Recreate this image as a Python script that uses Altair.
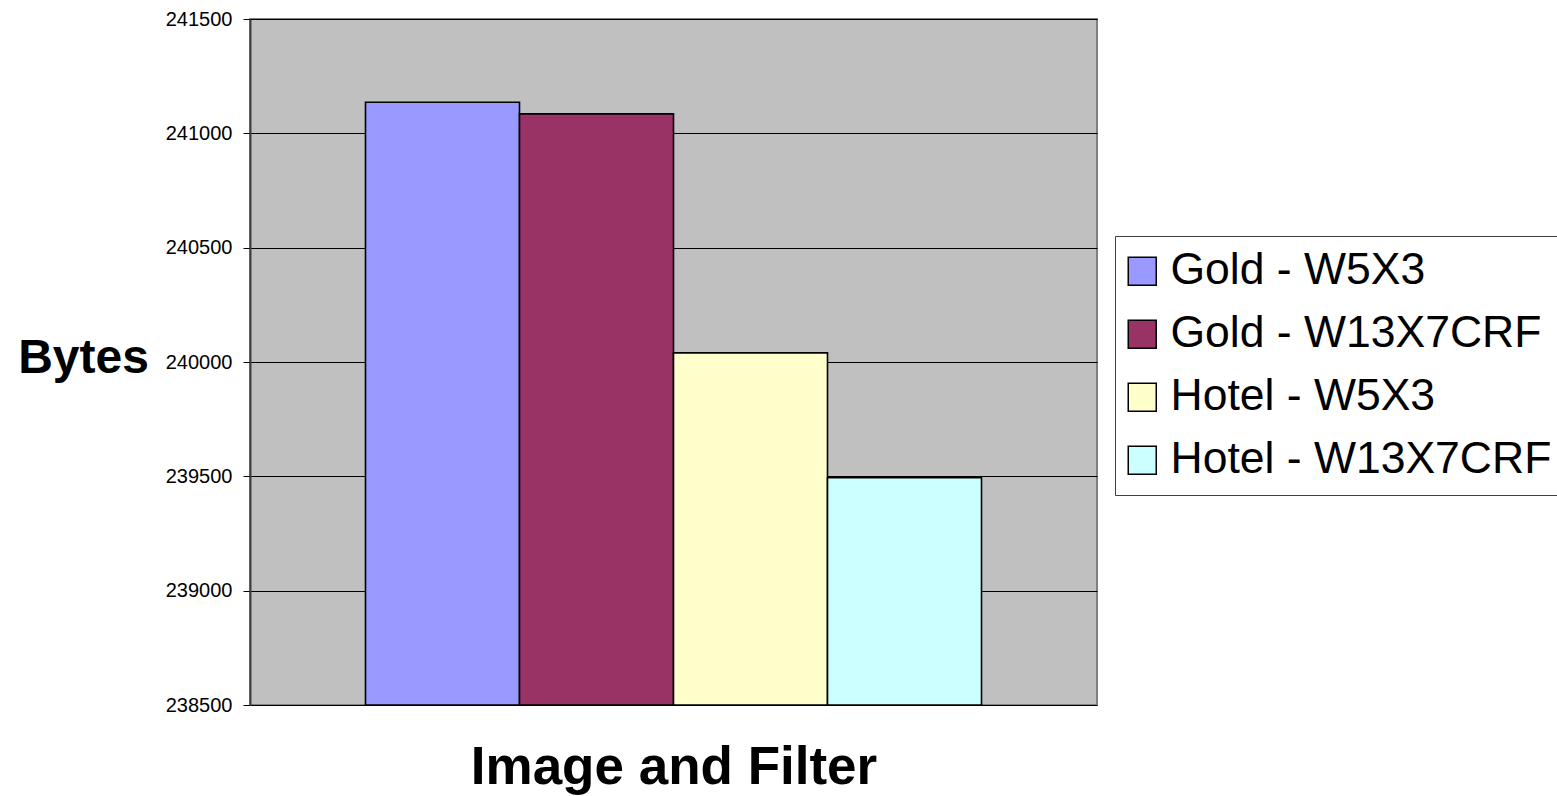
import altair as alt
import pandas as pd

# Compressed size for each image/filter combination
series = ["Gold - W5X3", "Gold - W13X7CRF", "Hotel - W5X3", "Hotel - W13X7CRF"]
bytes_values = [241136, 241085, 240040, 239494]
colors = ["#9999FF", "#993366", "#FFFFCC", "#CCFFFF"]
y_ticks = [238500, 239000, 239500, 240000, 240500, 241000, 241500]

Y_MIN, Y_MAX = 238500, 241500
FONT = "Liberation Sans"

df = pd.DataFrame({"Series": series, "Bytes": bytes_values})

chart = (
    alt.Chart(df)
    .mark_bar(stroke="#000000", strokeWidth=1.6)
    .encode(
        x=alt.X(
            "Series:N",
            sort=series,
            scale=alt.Scale(paddingInner=0, paddingOuter=0.75),
            axis=alt.Axis(
                title="Image and Filter",
                labels=False,
                ticks=False,
                domain=False,
                titleFont=FONT,
                titleFontSize=53,
                titleFontWeight="bold",
                titleColor="#000000",
                titleBaseline="alphabetic",
                titleY=78,
            ),
        ),
        y=alt.Y(
            "Bytes:Q",
            scale=alt.Scale(domain=[Y_MIN, Y_MAX], zero=False, nice=False),
            axis=alt.Axis(
                title="Bytes",
                values=y_ticks,
                format="d",
                labelFont=FONT,
                labelFontSize=20,
                labelColor="#000000",
                labelPadding=11,
                tickSize=7,
                tickColor="#000000",
                domainColor="#404040",
                domainWidth=2,
                gridColor="#000000",
                gridWidth=1,
                titleFont=FONT,
                titleFontSize=48,
                titleFontWeight="bold",
                titleColor="#000000",
                titleAngle=0,
                titleAlign="center",
                titleBaseline="alphabetic",
                titleX=-167,
                titleY=353,
            ),
        ),
        y2=alt.datum(Y_MIN),
        color=alt.Color(
            "Series:N",
            sort=series,
            scale=alt.Scale(domain=series, range=colors),
            legend=alt.Legend(
                title=None,
                orient="none",
                legendX=865,
                legendY=217,
                symbolType="square",
                symbolSize=784,
                symbolStrokeColor="#000000",
                symbolStrokeWidth=1.5,
                symbolOpacity=1,
                symbolOffset=-8,
                labelFont=FONT,
                labelFontSize=44.5,
                labelColor="#000000",
                labelOffset=6,
                labelLimit=0,
                rowPadding=18,
                padding=13,
                fillColor="#FFFFFF",
                strokeColor="#404040",
            ),
        ),
    )
    .properties(
        width=847,
        height=686,
        autosize=alt.AutoSizeParams(type="none"),
        padding={"left": 250, "top": 19, "right": 460, "bottom": 91},
    )
    .configure(background="#FFFFFF")
    .configure_view(fill="#C0C0C0", stroke="#808080", strokeWidth=2)
)

chart.save("out.html", embed_options={"renderer": "svg", "actions": False})
